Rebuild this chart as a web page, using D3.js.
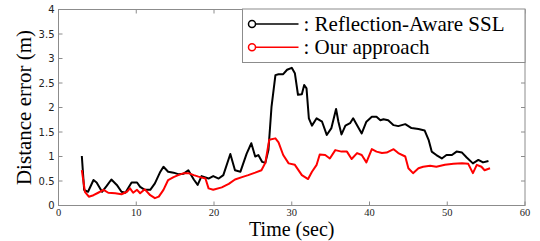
<!DOCTYPE html>
<html>
<head>
<meta charset="utf-8">
<script src="https://cdn.jsdelivr.net/npm/d3@7"></script>
<style>
  body { margin: 0; background: #fff; }
  svg { display: block; }
</style>
</head>
<body>
<script>
// time (sec) and distance error (m)
const awareT = [3.0, 3.3, 3.8, 4.5, 4.9, 5.6, 6.2, 6.8, 7.5, 8.1, 8.6, 9.4, 10.1, 10.5, 11.1, 11.8, 12.4, 13.1, 13.5, 14.1, 14.8, 15.4, 16.1, 16.7, 17.4, 17.9, 18.4, 19.3, 19.9, 20.6, 21.2, 22.1, 22.7, 23.4, 24.2, 24.8, 25.3, 25.7, 26.2, 26.6, 27.0, 27.4, 27.9, 28.3, 28.9, 29.4, 30.0, 30.4, 30.8, 31.3, 31.6, 31.9, 32.2, 32.6, 33.2, 33.9, 34.5, 35.1, 35.7, 36.0, 36.4, 36.9, 37.5, 37.9, 38.4, 39.0, 39.6, 40.3, 40.9, 41.4, 41.8, 42.4, 43.1, 43.7, 44.6, 45.4, 46.3, 47.1, 47.6, 48.0, 48.6, 49.3, 49.9, 50.6, 51.2, 51.9, 52.5, 53.3, 54.0, 54.6, 55.3];
const awareErr = [1.01, 0.32, 0.28, 0.52, 0.47, 0.28, 0.40, 0.53, 0.42, 0.28, 0.26, 0.47, 0.47, 0.38, 0.32, 0.32, 0.45, 0.69, 0.79, 0.69, 0.67, 0.64, 0.65, 0.72, 0.53, 0.42, 0.60, 0.55, 0.60, 0.55, 0.62, 1.05, 0.72, 0.69, 1.06, 1.27, 1.00, 1.03, 0.89, 0.87, 1.13, 2.02, 2.66, 2.68, 2.68, 2.77, 2.81, 2.70, 2.26, 2.27, 2.46, 2.39, 1.78, 1.63, 1.78, 1.71, 1.44, 1.58, 1.97, 1.71, 1.45, 1.63, 1.68, 1.78, 1.64, 1.47, 1.71, 1.81, 1.81, 1.74, 1.76, 1.74, 1.64, 1.62, 1.66, 1.58, 1.56, 1.53, 1.34, 1.10, 1.03, 0.96, 1.03, 1.03, 1.10, 1.08, 0.98, 0.86, 0.93, 0.88, 0.91];

const oursT = [3.0, 3.4, 3.9, 4.5, 5.1, 5.8, 6.4, 7.3, 8.1, 8.8, 9.2, 9.6, 10.1, 10.5, 11.1, 11.8, 12.4, 12.9, 13.5, 14.1, 14.8, 15.4, 16.1, 16.7, 17.4, 18.0, 18.9, 19.3, 19.9, 21.0, 21.9, 22.7, 23.6, 24.4, 25.3, 26.1, 26.6, 27.1, 27.9, 28.3, 28.9, 29.6, 30.4, 31.3, 32.1, 32.6, 33.2, 33.6, 34.3, 34.9, 35.6, 36.4, 37.1, 37.7, 38.4, 39.0, 39.6, 40.3, 40.9, 41.6, 42.2, 43.1, 43.7, 44.6, 45.0, 45.6, 46.3, 46.9, 47.8, 48.6, 49.7, 50.8, 51.9, 52.7, 53.3, 53.8, 54.4, 54.8, 55.5];
const oursErr = [0.72, 0.28, 0.18, 0.21, 0.26, 0.32, 0.26, 0.25, 0.23, 0.28, 0.35, 0.26, 0.32, 0.25, 0.33, 0.21, 0.15, 0.18, 0.32, 0.52, 0.58, 0.62, 0.66, 0.66, 0.62, 0.59, 0.55, 0.35, 0.32, 0.37, 0.44, 0.53, 0.58, 0.62, 0.67, 0.72, 0.87, 1.34, 1.37, 1.29, 1.03, 0.86, 0.83, 0.62, 0.54, 0.69, 0.83, 1.04, 1.03, 0.96, 1.13, 1.10, 1.10, 0.95, 1.07, 1.03, 0.88, 1.15, 1.10, 1.07, 1.08, 1.15, 1.07, 1.00, 0.76, 0.66, 0.76, 0.79, 0.81, 0.79, 0.83, 0.85, 0.86, 0.85, 0.66, 0.83, 0.79, 0.72, 0.76];

const xTicks = [0, 10, 20, 30, 40, 50, 60];
const yTicks = [0, 0.5, 1, 1.5, 2, 2.5, 3, 3.5, 4];
const seriesNames = [": Reflection-Aware SSL", ": Our approach"];
const seriesColors = ["#000000", "#ff0000"];

const W = 540, H = 241;
const m = {top: 9.5, right: 15, bottom: 35.5, left: 58.5};
const w = W - m.left - m.right;
const h = H - m.top - m.bottom;

const svg = d3.select("body")
    .append("svg")
    .attr("width", W)
    .attr("height", H);

const g = svg.append("g")
    .attr("transform", `translate(${m.left}, ${m.top})`);

const x = d3.scaleLinear().domain([0, 60]).range([0, w]);
const y = d3.scaleLinear().domain([0, 4]).range([h, 0]);

const axisColor = "#8c8c8c";

// frame
g.append("rect")
    .attr("width", w)
    .attr("height", h)
    .attr("fill", "none")
    .attr("stroke", axisColor)
    .attr("stroke-width", 1);

// inward ticks on all four sides
const tickLen = 4;
g.selectAll(".xt")
    .data(xTicks)
    .enter()
    .append("path")
    .attr("d", d => `M${x(d)},${h}v${-tickLen}M${x(d)},0v${tickLen}`)
    .attr("stroke", axisColor);
g.selectAll(".yt")
    .data(yTicks)
    .enter()
    .append("path")
    .attr("d", d => `M0,${y(d)}h${tickLen}M${w},${y(d)}h${-tickLen}`)
    .attr("stroke", axisColor);

// tick labels
g.selectAll(".xl")
    .data(xTicks)
    .enter()
    .append("text")
    .attr("x", d => x(d))
    .attr("y", h + 10.5)
    .attr("text-anchor", "middle")
    .style("font-family", "'Liberation Serif', serif")
    .style("font-size", "10.5px")
    .attr("fill", "#222")
    .text(d => d);
g.selectAll(".yl")
    .data(yTicks)
    .enter()
    .append("text")
    .attr("x", -4)
    .attr("y", d => y(d) + 3.5)
    .attr("text-anchor", "end")
    .style("font-family", "'DejaVu Sans', sans-serif")
    .style("font-size", "10px")
    .attr("fill", "#222")
    .text(d => d);

// axis titles
svg.append("text")
    .attr("x", m.left + x(30))
    .attr("y", 236)
    .attr("text-anchor", "middle")
    .style("font-family", "'Liberation Serif', serif")
    .style("font-size", "20px")
    .text("Time (sec)");
svg.append("text")
    .attr("transform", `translate(31, ${m.top + y(2)}) rotate(-90)`)
    .attr("text-anchor", "middle")
    .style("font-family", "'Liberation Serif', serif")
    .style("font-size", "21px")
    .text("Distance error (m)");

// lines
const line = d3.line()
    .x(d => x(d[0]))
    .y(d => y(d[1]));

const series = [
    d3.zip(awareT, awareErr),
    d3.zip(oursT, oursErr)
];

g.selectAll(".series")
    .data(series)
    .enter()
    .append("path")
    .attr("d", line)
    .attr("fill", "none")
    .attr("stroke", (d, i) => seriesColors[i])
    .attr("stroke-width", 2)
    .attr("stroke-linejoin", "round");

// legend
const lg = g.append("g")
    .attr("transform", `translate(${w - 282.5}, -0.5)`);
lg.append("rect")
    .attr("width", 282.5)
    .attr("height", 53.5)
    .attr("fill", "#fff")
    .attr("stroke", axisColor);
seriesNames.forEach((name, i) => {
    const ly = 15 + i * 23.3;
    lg.append("line")
        .attr("x1", 9).attr("x2", 56)
        .attr("y1", ly).attr("y2", ly)
        .attr("stroke", seriesColors[i])
        .attr("stroke-width", 1.5);
    lg.append("circle")
        .attr("cx", 9.5).attr("cy", ly)
        .attr("r", 3.5)
        .attr("fill", "#fff")
        .attr("stroke", seriesColors[i])
        .attr("stroke-width", 1.5);
    lg.append("text")
        .attr("x", 61)
        .attr("y", ly + 7)
        .style("font-family", "'Liberation Serif', serif")
        .style("font-size", "21px")
        .text(name);
});
</script>
</body>
</html>
